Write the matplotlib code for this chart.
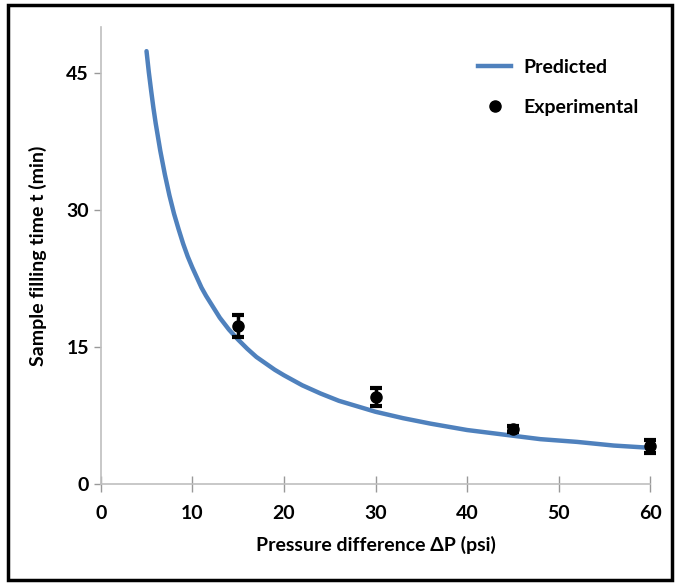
import matplotlib.pyplot as plt
from matplotlib.lines import Line2D
from matplotlib.patches import Rectangle

# Predicted curve, values
pred_dp = [5, 5.25, 5.5, 5.75, 6, 6.5, 7, 7.5, 8, 8.5, 9, 9.5, 10, 10.5, 11,
           11.5, 12, 13, 14, 15, 16, 17, 18, 19, 20, 22, 24, 26, 28, 30, 33,
           36, 40, 44, 48, 52, 56, 60]
pred_t = [47.4, 45.1, 43.1, 41.2, 39.5, 36.5, 33.9, 31.6, 29.6, 27.9, 26.3,
          24.9, 23.7, 22.6, 21.5, 20.6, 19.8, 18.2, 16.9, 15.8, 14.8, 13.9,
          13.2, 12.5, 11.9, 10.8, 9.9, 9.1, 8.5, 7.9, 7.2, 6.6, 5.9, 5.4,
          4.9, 4.6, 4.2, 3.95]

# Experimental points with error bars
exp_dp = [15, 30, 45, 60]
exp_t = [17.3, 9.5, 6.0, 4.1]
exp_err = [1.2, 1.0, 0.3, 0.7]

x_ticks = [0, 10, 20, 30, 40, 50, 60]
y_ticks = [0, 15, 30, 45]

plt.rcParams["font.family"] = ["Lato", "DejaVu Sans"]

fig = plt.figure(figsize=(6.76, 5.83), dpi=100)
ax = fig.add_axes([0.149, 0.170, 0.813, 0.783])

ax.plot(pred_dp, pred_t, color="#4F81BD", lw=3.2, solid_capstyle="round",
        solid_joinstyle="round")
ax.errorbar(exp_dp, exp_t, yerr=exp_err, fmt="o", color="black", ms=8,
            ecolor="black", elinewidth=2.5, capsize=4, capthick=3,
            clip_on=False)

ax.set_xlim(0, 60)
ax.set_ylim(0, 50)
ax.set_xticks(x_ticks)
ax.set_yticks(y_ticks)

for side in ["top", "right"]:
    ax.spines[side].set_visible(False)
for side in ["left", "bottom"]:
    ax.spines[side].set_color("#BFBFBF")
    ax.spines[side].set_linewidth(1.2)
ax.tick_params(axis="both", colors="#999999", length=5, width=1,
               labelcolor="black", labelsize=14)
ax.tick_params(axis="x", direction="inout", length=12, pad=9)
for lab in ax.get_xticklabels() + ax.get_yticklabels():
    lab.set_fontweight("bold")

ax.set_xlabel("Pressure difference \u0394P (psi)", fontsize=14,
              fontweight="bold", labelpad=10)
ax.set_ylabel("Sample filling time t (min)", fontsize=14,
              fontweight="bold", labelpad=14)

handles = [
    Line2D([], [], color="#4F81BD", lw=3.2),
    Line2D([], [], marker="o", ls="none", color="black", ms=8),
]
ax.legend(handles, ["Predicted", "Experimental"], loc="upper left",
          bbox_to_anchor=(0.655, 0.97), frameon=False,
          prop={"size": 14, "weight": "bold"}, handlelength=1.7,
          handletextpad=0.6, labelspacing=1.2)

fig.patches.append(Rectangle((0.012, 0.006), 0.982, 0.986,
                             transform=fig.transFigure, fill=False,
                             edgecolor="black", lw=2.5))

plt.savefig("out.png", dpi=100)
plt.close()
